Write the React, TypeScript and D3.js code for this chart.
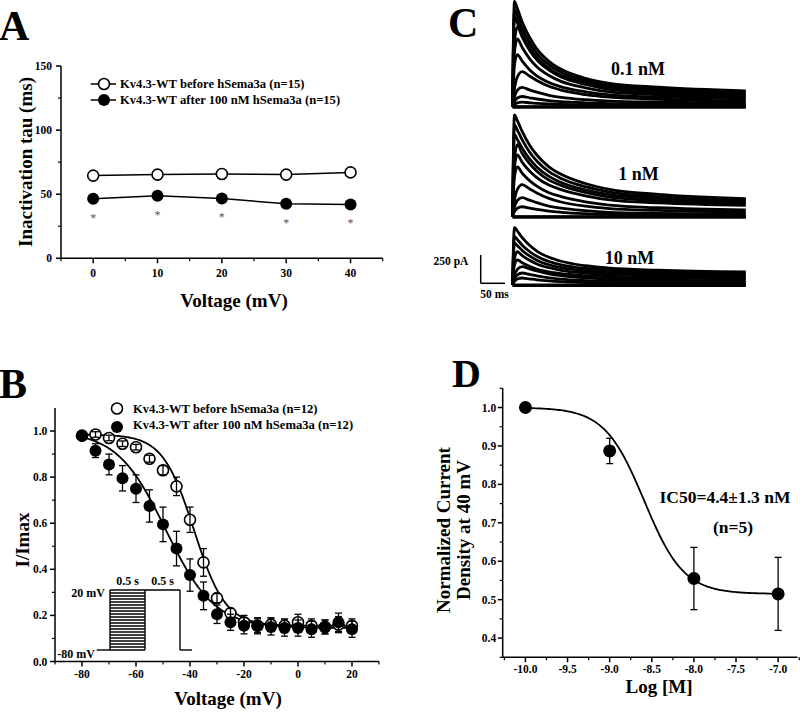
import React from 'react';
import * as d3 from 'd3';

const FONT = '"Liberation Serif", "Times New Roman", Times, serif';

// ---------- Panel A ----------
const A_VOLTAGES = [0, 10, 20, 30, 40];
const A_BEFORE = [64.5, 65.3, 65.8, 65.3, 67];
const A_BEFORE_ERR = [1.5, 1.5, 1.5, 1.5, 1.5];
const A_AFTER = [46.5, 48.7, 46.6, 42.5, 42];
const A_AFTER_ERR = [3, 3, 2.5, 3, 2.5];
const A_SIGNIFICANT = [true, true, true, true, true];
const A_LEGEND = ['Kv4.3-WT before hSema3a (n=15)', 'Kv4.3-WT after 100 nM hSema3a (n=15)'];
const A_Y_MAJOR = [0, 50, 100, 150];
const A_Y_MINOR = [25, 75, 125];
const A_X_MAJOR = [0, 10, 20, 30, 40];
const A_X_MINOR = [-5, 5, 15, 25, 35, 45];

// ---------- Panel B ----------
const B_VOLTAGES = [-80, -75, -70, -65, -60, -55, -50, -45, -40, -35, -30, -25, -20, -15, -10, -5, 0, 5, 10, 15, 20];
const B_BEFORE = [0.98, 0.985, 0.97, 0.945, 0.93, 0.88, 0.83, 0.76, 0.615, 0.43, 0.275, 0.21, 0.17, 0.155, 0.16, 0.155, 0.17, 0.155, 0.15, 0.16, 0.155];
const B_BEFORE_ERR = [0.01, 0.012, 0.012, 0.012, 0.012, 0.015, 0.02, 0.04, 0.055, 0.06, 0.02, 0.02, 0.03, 0.03, 0.03, 0.03, 0.035, 0.03, 0.03, 0.035, 0.03];
const B_AFTER = [0.98, 0.915, 0.855, 0.795, 0.75, 0.675, 0.595, 0.49, 0.375, 0.285, 0.205, 0.17, 0.155, 0.155, 0.15, 0.145, 0.145, 0.14, 0.15, 0.17, 0.14];
const B_AFTER_ERR = [0.01, 0.03, 0.045, 0.055, 0.06, 0.07, 0.075, 0.075, 0.07, 0.06, 0.04, 0.035, 0.035, 0.035, 0.035, 0.035, 0.035, 0.035, 0.03, 0.04, 0.035];
// Boltzmann fit parameters [top, bottom, V1/2, k]
const B_FIT_BEFORE = [0.985, 0.155, -38.5, 5.8];
const B_FIT_AFTER = [1.0, 0.145, -49, 9];
const B_LEGEND = ['Kv4.3-WT before hSema3a (n=12)', 'Kv4.3-WT after 100 nM hSema3a (n=12)'];
const B_Y_MAJOR = [0, 0.2, 0.4, 0.6, 0.8, 1.0];
const B_Y_MINOR = [0.1, 0.3, 0.5, 0.7, 0.9];
const B_X_MAJOR = [-80, -60, -40, -20, 0, 20];
const B_X_MINOR = [-90, -70, -50, -30, -10, 10, 30];
// voltage protocol inset
const PROTOCOL_STEPS_MV = [-80, -75, -70, -65, -60, -55, -50, -45, -40, -35, -30, -25, -20, -15, -10, -5, 0, 5, 10, 15, 20];
const PROTOCOL_HOLD_MV = -80;
const PROTOCOL_TEST_MV = 20;
const PROTOCOL_TIMES_S = [-0.19, 0, 0.5, 1.0, 1.17];

// ---------- Panel C ----------
const TRACE_TIME_MS = [0, 4, 10, 20, 35, 50, 75, 100, 150, 200, 300, 480];
const TRACES_01NM = [
  [0, 930, 867, 748, 614, 511, 401, 330, 251, 207, 172, 140],
  [0, 860, 801, 692, 567, 472, 370, 304, 230, 190, 157, 128],
  [0, 795, 741, 639, 523, 435, 339, 278, 210, 173, 142, 115],
  [0, 564, 705, 614, 499, 415, 324, 263, 197, 154, 124, 100],
  [0, 480, 600, 523, 425, 353, 276, 224, 167, 131, 106, 85],
  [0, 368, 460, 402, 327, 273, 214, 175, 132, 105, 86, 70],
  [0, 155, 264, 310, 271, 232, 180, 146, 107, 84, 66, 50],
  [0, 85, 145, 170, 149, 129, 101, 83, 62, 50, 40, 32],
  [0, 45, 77, 90, 79, 68, 54, 45, 34, 27, 22, 18],
  [0, 20, 34, 40, 35, 30, 24, 20, 15, 12, 10, 8],
  [0, 0, 0, 0, 0, 0, 0, 0, 0, 0, 0, 0],
];
const TRACES_1NM = [
  [0, 900, 848, 752, 634, 545, 441, 375, 293, 241, 197, 160],
  [0, 812, 765, 679, 572, 492, 398, 338, 265, 218, 178, 145],
  [0, 724, 682, 605, 510, 439, 356, 302, 237, 195, 160, 130],
  [0, 509, 636, 558, 469, 402, 323, 277, 214, 172, 141, 115],
  [0, 438, 547, 480, 404, 346, 279, 239, 185, 149, 122, 100],
  [0, 353, 441, 384, 319, 270, 212, 178, 132, 102, 79, 60],
  [0, 142, 241, 283, 247, 210, 162, 130, 93, 72, 55, 40],
  [0, 84, 143, 168, 146, 124, 94, 75, 53, 39, 29, 20],
  [0, 44, 75, 88, 76, 65, 49, 39, 27, 20, 14, 10],
  [0, 0, 0, 0, 0, 0, 0, 0, 0, 0, 0, 0],
];
const TRACES_10NM = [
  [0, 509, 477, 418, 351, 300, 245, 210, 170, 148, 131, 115],
  [0, 427, 401, 352, 296, 254, 208, 178, 146, 128, 113, 100],
  [0, 371, 348, 305, 257, 219, 179, 154, 125, 109, 96, 85],
  [0, 235, 294, 260, 218, 186, 153, 130, 106, 90, 79, 70],
  [0, 177, 221, 196, 165, 141, 116, 100, 82, 70, 62, 55],
  [0, 81, 138, 162, 143, 124, 99, 82, 63, 51, 43, 35],
  [0, 53, 90, 106, 93, 80, 63, 52, 39, 31, 25, 20],
  [0, 31, 53, 62, 54, 46, 36, 29, 21, 17, 13, 10],
  [0, 0, 0, 0, 0, 0, 0, 0, 0, 0, 0, 0],
];
const C_LABELS = ['0.1 nM', '1 nM', '10 nM'];
const SCALE_BAR_PA = 250;
const SCALE_BAR_MS = 50;

// ---------- Panel D ----------
const D_LOGCONC = [-10, -9, -8, -7];
const D_VALUES = [1.0, 0.887, 0.555, 0.515];
const D_ERR = [0.005, 0.033, 0.081, 0.095];
// Hill fit [top, bottom, logIC50, hill]
const D_FIT = [1.0, 0.515, -8.59, 1.85];
const D_Y_MAJOR = [0.4, 0.5, 0.6, 0.7, 0.8, 0.9, 1.0];
const D_Y_MINOR = [0.35, 0.45, 0.55, 0.65, 0.75, 0.85, 0.95, 1.05];
const D_X_MAJOR = [-10, -9.5, -9, -8.5, -8, -7.5, -7];
const D_X_MINOR = [-10.25, -9.75, -9.25, -8.75, -8.25, -7.75, -7.25, -6.75];

const SW = 1.5;
const TICK_FS = 11.5;
const LEGEND_FS = 12.6;
const TITLE_FS = 19;

type Scale = d3.ScaleLinear<number, number>;

function LeftAxis({ scale, x, major, minor, fmt, labelGap }:
  { scale: Scale; x: number; major: number[]; minor: number[]; fmt: (v: number) => string; labelGap: number }) {
  const [r0, r1] = scale.range();
  return (
    <g>
      <line x1={x} x2={x} y1={r0} y2={r1} stroke="#000" strokeWidth={SW} />
      {major.map((v) => (
        <line key={'M' + v} x1={x - 5} x2={x} y1={scale(v)} y2={scale(v)} stroke="#000" strokeWidth={SW} />
      ))}
      {minor.map((v) => (
        <line key={'m' + v} x1={x - 3} x2={x} y1={scale(v)} y2={scale(v)} stroke="#000" strokeWidth={1.2} />
      ))}
      {major.map((v) => (
        <text key={'t' + v} x={x - labelGap} y={scale(v)} dy="0.35em" textAnchor="end"
          fontFamily={FONT} fontWeight={700} fontSize={TICK_FS}>{fmt(v)}</text>
      ))}
    </g>
  );
}

function BottomAxis({ scale, y, major, minor, fmt, labelY }:
  { scale: Scale; y: number; major: number[]; minor: number[]; fmt: (v: number) => string; labelY: number }) {
  const [r0, r1] = scale.range();
  return (
    <g>
      <line x1={r0} x2={r1} y1={y} y2={y} stroke="#000" strokeWidth={SW} />
      {major.map((v) => (
        <line key={'M' + v} x1={scale(v)} x2={scale(v)} y1={y} y2={y + 5} stroke="#000" strokeWidth={SW} />
      ))}
      {minor.map((v) => (
        <line key={'m' + v} x1={scale(v)} x2={scale(v)} y1={y} y2={y + 3} stroke="#000" strokeWidth={1.2} />
      ))}
      {major.map((v) => (
        <text key={'t' + v} x={scale(v)} y={labelY} textAnchor="middle"
          fontFamily={FONT} fontWeight={700} fontSize={TICK_FS}>{fmt(v)}</text>
      ))}
    </g>
  );
}

function ErrBar({ x, y0, y1, cap }: { x: number; y0: number; y1: number; cap: number }) {
  return (
    <g stroke="#000" strokeWidth={1.3}>
      <line x1={x} x2={x} y1={y0} y2={y1} />
      <line x1={x - cap / 2} x2={x + cap / 2} y1={y0} y2={y0} />
      <line x1={x - cap / 2} x2={x + cap / 2} y1={y1} y2={y1} />
    </g>
  );
}

function Letter({ x, y, ch, size = 42 }: { x: number; y: number; ch: string; size?: number }) {
  return <text x={x} y={y} fontFamily={FONT} fontWeight={700} fontSize={size}>{ch}</text>;
}

export default function App() {
  // ---------- A scales ----------
  const xA = d3.scaleLinear().domain([-5, 45]).range([61, 382.7]);
  const yA = d3.scaleLinear().domain([0, 150]).range([258.3, 66]);
  const lineA = d3.line<number>().x((_, i) => xA(A_VOLTAGES[i])).y((d) => yA(d));

  // ---------- B scales ----------
  const xB = d3.scaleLinear().domain([-90, 30]).range([55, 379]);
  const yB = d3.scaleLinear().domain([0, 1.1]).range([661.5, 408]);
  const boltz = (p: number[]) => (v: number) => p[1] + (p[0] - p[1]) / (1 + Math.exp((v - p[2]) / p[3]));
  const fitVs = d3.range(-80, 20.01, 0.5);
  const pathBefore = d3.line<number>().x((v) => xB(v)).y((v) => yB(boltz(B_FIT_BEFORE)(v)))(fitVs) || '';
  const pathAfter = d3.line<number>().x((v) => xB(v)).y((v) => yB(boltz(B_FIT_AFTER)(v)))(fitVs) || '';
  // protocol inset
  const tP = d3.scaleLinear().domain([0, 1]).range([110, 180]);
  const vP = d3.scaleLinear().domain([-80, 20]).range([650, 590]);
  const [tHold0, tStep0, tStep1, tTest1, tEnd] = PROTOCOL_TIMES_S;

  // ---------- C scales ----------
  const xC = d3.scaleLinear().domain([0, 480]).range([512.5, 745.8]);
  const pxPerPA = 28.3 / 250;
  const cPanels = [
    { traces: TRACES_01NM, base: 106.7, label: C_LABELS[0], lx: 638, ly: 75 },
    { traces: TRACES_1NM, base: 216.7, label: C_LABELS[1], lx: 638.5, ly: 180 },
    { traces: TRACES_10NM, base: 285, label: C_LABELS[2], lx: 629.5, ly: 263.5 },
  ];
  const scaleBarX = 480.7;
  const scaleBarY = 283.3;

  // ---------- D scales ----------
  const xD = d3.scaleLinear().domain([-10.27, -6.77]).range([502.7, 797.5]);
  const yD = d3.scaleLinear().domain([0.35, 1.05]).range([657.3, 388.3]);
  const hill = (x: number) => D_FIT[1] + (D_FIT[0] - D_FIT[1]) / (1 + Math.pow(10, (x - D_FIT[2]) * D_FIT[3]));
  const dxs = d3.range(-10, -6.999, 0.02);
  const pathD = d3.line<number>().x((x) => xD(x)).y((x) => yD(hill(x)))(dxs) || '';

  return (
    <svg width={800} height={713} style={{ position: 'absolute', left: 0, top: 0, background: '#fff' }}>
      <rect x={0} y={0} width={800} height={713} fill="#fff" />

      {/* ================= Panel A ================= */}
      <Letter x={-1} y={40} ch="A" />
      <LeftAxis scale={yA} x={61} major={A_Y_MAJOR} minor={A_Y_MINOR} fmt={(v) => String(v)} labelGap={9} />
      <BottomAxis scale={xA} y={258.3} major={A_X_MAJOR} minor={A_X_MINOR} fmt={(v) => String(v)} labelY={277} />
      <text transform="translate(25,162) rotate(-90)" dy="0.35em" textAnchor="middle" fontFamily={FONT} fontWeight={700} fontSize={TITLE_FS}>Inactivation tau (ms)</text>
      <text x={234} y={307} textAnchor="middle" fontFamily={FONT} fontWeight={700} fontSize={TITLE_FS}>Voltage (mV)</text>
      <path d={lineA(A_BEFORE) || ''} fill="none" stroke="#000" strokeWidth={1.5} />
      <path d={lineA(A_AFTER) || ''} fill="none" stroke="#000" strokeWidth={1.5} />
      {A_VOLTAGES.map((v, i) => (
        <g key={'a' + v}>
          <ErrBar x={xA(v)} y0={yA(A_AFTER[i] + A_AFTER_ERR[i])} y1={yA(A_AFTER[i] - A_AFTER_ERR[i])} cap={6} />
          <circle cx={xA(v)} cy={yA(A_AFTER[i])} r={6} fill="#000" />
          <circle cx={xA(v)} cy={yA(A_BEFORE[i])} r={5.5} fill="#fff" stroke="#000" strokeWidth={1.6} />
          {A_SIGNIFICANT[i] && (
            <text x={xA(v)} y={yA(A_AFTER[i] - A_AFTER_ERR[i]) + 19} textAnchor="middle" fontFamily={FONT} fontSize={12} fill="#555">*</text>
          )}
        </g>
      ))}
      {/* legend A */}
      <line x1={90.7} x2={116} y1={84} y2={84} stroke="#000" strokeWidth={1.5} />
      <circle cx={104} cy={84} r={5.5} fill="#fff" stroke="#000" strokeWidth={1.6} />
      <text x={120} y={88.3} fontFamily={FONT} fontWeight={700} fontSize={LEGEND_FS}>{A_LEGEND[0]}</text>
      <line x1={90.7} x2={116} y1={100} y2={100} stroke="#000" strokeWidth={1.5} />
      <circle cx={104} cy={100} r={6} fill="#000" />
      <text x={120} y={104.3} fontFamily={FONT} fontWeight={700} fontSize={LEGEND_FS}>{A_LEGEND[1]}</text>

      {/* ================= Panel B ================= */}
      <Letter x={-1} y={398} ch="B" />
      <LeftAxis scale={yB} x={55} major={B_Y_MAJOR} minor={B_Y_MINOR} fmt={(v) => v.toFixed(1)} labelGap={7.7} />
      <BottomAxis scale={xB} y={661.5} major={B_X_MAJOR} minor={B_X_MINOR} fmt={(v) => String(v)} labelY={677.5} />
      <text transform="translate(22,540) rotate(-90)" dy="0.35em" textAnchor="middle" fontFamily={FONT} fontWeight={700} fontSize={TITLE_FS}>I/Imax</text>
      <text x={228} y={705} textAnchor="middle" fontFamily={FONT} fontWeight={700} fontSize={TITLE_FS}>Voltage (mV)</text>

      {/* protocol inset */}
      <g stroke="#000" strokeWidth={1.4} fill="none">
        <line x1={tP(tHold0)} x2={tP(tStep0)} y1={vP(PROTOCOL_HOLD_MV)} y2={vP(PROTOCOL_HOLD_MV)} />
        <line x1={tP(tStep0)} x2={tP(tStep0)} y1={vP(PROTOCOL_HOLD_MV)} y2={vP(PROTOCOL_TEST_MV)} />
        {PROTOCOL_STEPS_MV.map((v) => (
          <line key={'p' + v} x1={tP(tStep0)} x2={tP(tStep1)} y1={vP(v)} y2={vP(v)} strokeWidth={1.6} />
        ))}
        <line x1={tP(tStep1)} x2={tP(tStep1)} y1={vP(PROTOCOL_HOLD_MV)} y2={vP(PROTOCOL_TEST_MV)} />
        <line x1={tP(tStep1)} x2={tP(tTest1)} y1={vP(PROTOCOL_TEST_MV)} y2={vP(PROTOCOL_TEST_MV)} />
        <line x1={tP(tTest1)} x2={tP(tTest1)} y1={vP(PROTOCOL_TEST_MV)} y2={vP(PROTOCOL_HOLD_MV)} />
        <line x1={tP(tTest1)} x2={tP(tEnd)} y1={vP(PROTOCOL_HOLD_MV)} y2={vP(PROTOCOL_HOLD_MV)} />
      </g>
      <text x={105} y={596.5} textAnchor="end" fontFamily={FONT} fontWeight={700} fontSize={12}>20 mV</text>
      <text x={95} y={658} textAnchor="end" fontFamily={FONT} fontWeight={700} fontSize={12}>-80 mV</text>
      <text x={tP((tStep0 + tStep1) / 2)} y={585} textAnchor="middle" fontFamily={FONT} fontWeight={700} fontSize={12}>0.5 s</text>
      <text x={tP((tStep1 + tTest1) / 2)} y={585} textAnchor="middle" fontFamily={FONT} fontWeight={700} fontSize={12}>0.5 s</text>

      {/* fits */}
      <path d={pathBefore} fill="none" stroke="#000" strokeWidth={1.8} />
      <path d={pathAfter} fill="none" stroke="#000" strokeWidth={1.8} />
      {/* open (before) */}
      {B_VOLTAGES.map((v, i) => (
        <g key={'bo' + v}>
          <circle cx={xB(v)} cy={yB(B_BEFORE[i])} r={5.5} fill="#fff" stroke="#000" strokeWidth={1.6} />
          <ErrBar x={xB(v)} y0={yB(B_BEFORE[i] + B_BEFORE_ERR[i])} y1={yB(B_BEFORE[i] - B_BEFORE_ERR[i])} cap={7} />
        </g>
      ))}
      {/* filled (after) */}
      {B_VOLTAGES.map((v, i) => (
        <g key={'bf' + v}>
          <ErrBar x={xB(v)} y0={yB(B_AFTER[i] + B_AFTER_ERR[i])} y1={yB(B_AFTER[i] - B_AFTER_ERR[i])} cap={7} />
          <circle cx={xB(v)} cy={yB(B_AFTER[i])} r={6} fill="#000" />
        </g>
      ))}
      {/* legend B */}
      <circle cx={117} cy={408.5} r={5.5} fill="#fff" stroke="#000" strokeWidth={1.6} />
      <text x={133} y={412.5} fontFamily={FONT} fontWeight={700} fontSize={LEGEND_FS}>{B_LEGEND[0]}</text>
      <circle cx={117} cy={427} r={6} fill="#000" />
      <text x={133} y={429} fontFamily={FONT} fontWeight={700} fontSize={LEGEND_FS}>{B_LEGEND[1]}</text>

      {/* ================= Panel C ================= */}
      <Letter x={448} y={37} ch="C" />
      {cPanels.map((p, pi) => {
        const yC = d3.scaleLinear().domain([0, 250]).range([p.base, p.base - 250 * pxPerPA]);
        const line = d3.line<number>().x((_, i) => xC(TRACE_TIME_MS[i])).y((d) => yC(d)).curve(d3.curveMonotoneX);
        return (
          <g key={'c' + pi}>
            {p.traces.map((tr, ti) => (
              <path key={ti} d={line(tr) || ''} fill="none" stroke="#000" strokeWidth={2.8} strokeLinejoin="round" />
            ))}
            <line x1={xC(0)} x2={xC(TRACE_TIME_MS[TRACE_TIME_MS.length - 1])} y1={p.base + 0.5} y2={p.base + 0.5} stroke="#000" strokeWidth={3.2} />
            <text x={p.lx} y={p.ly} textAnchor="middle" fontFamily={FONT} fontWeight={700} fontSize={18}>{p.label}</text>
          </g>
        );
      })}
      {/* scale bar */}
      <g stroke="#000" strokeWidth={1.5}>
        <line x1={scaleBarX} x2={scaleBarX} y1={scaleBarY} y2={scaleBarY - SCALE_BAR_PA * pxPerPA} />
        <line x1={scaleBarX} x2={scaleBarX + (xC(SCALE_BAR_MS) - xC(0))} y1={scaleBarY} y2={scaleBarY} />
      </g>
      <text x={451} y={265} textAnchor="middle" fontFamily={FONT} fontWeight={700} fontSize={11.5}>{SCALE_BAR_PA} pA</text>
      <text x={494.5} y={298} textAnchor="middle" fontFamily={FONT} fontWeight={700} fontSize={11.5}>{SCALE_BAR_MS} ms</text>

      {/* ================= Panel D ================= */}
      <Letter x={452} y={387} ch="D" size={40} />
      <LeftAxis scale={yD} x={502.7} major={D_Y_MAJOR} minor={D_Y_MINOR} fmt={(v) => v.toFixed(1)} labelGap={6.5} />
      <BottomAxis scale={xD} y={657.3} major={D_X_MAJOR} minor={D_X_MINOR} fmt={(v) => v.toFixed(1)} labelY={673} />
      <text transform="translate(443,530) rotate(-90)" dy="0.35em" textAnchor="middle" fontFamily={FONT} fontWeight={700} fontSize={TITLE_FS}>Normalized Current</text>
      <text transform="translate(463,530) rotate(-90)" dy="0.35em" textAnchor="middle" fontFamily={FONT} fontWeight={700} fontSize={TITLE_FS}>Density at 40 mV</text>
      <text x={659} y={693} textAnchor="middle" fontFamily={FONT} fontWeight={700} fontSize={TITLE_FS}>Log [M]</text>
      <path d={pathD} fill="none" stroke="#000" strokeWidth={1.8} />
      {D_LOGCONC.map((x, i) => (
        <g key={'d' + x}>
          <ErrBar x={xD(x)} y0={yD(D_VALUES[i] + D_ERR[i])} y1={yD(D_VALUES[i] - D_ERR[i])} cap={7} />
          <circle cx={xD(x)} cy={yD(D_VALUES[i])} r={6.5} fill="#000" />
        </g>
      ))}
      <text x={725} y={503} textAnchor="middle" fontFamily={FONT} fontWeight={700} fontSize={17.5}>IC50=4.4±1.3 nM</text>
      <text x={733} y={533} textAnchor="middle" fontFamily={FONT} fontWeight={700} fontSize={17.5}>(n=5)</text>
    </svg>
  );
}
